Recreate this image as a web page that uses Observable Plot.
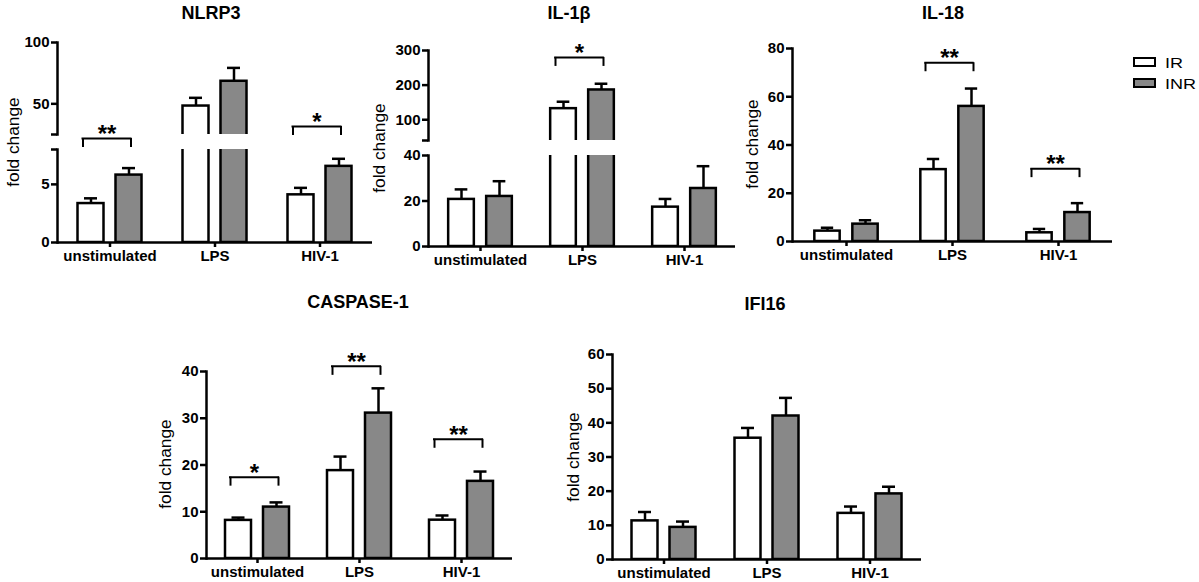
<!DOCTYPE html>
<html><head><meta charset="utf-8">
<script src="https://cdn.jsdelivr.net/npm/d3@7"></script>
<script src="https://cdn.jsdelivr.net/npm/@observablehq/plot@0.6"></script>
<style>
body{margin:0;background:#fff;}
#root{position:relative;width:1199px;height:582px;overflow:hidden;font-family:"Liberation Sans",Arial,sans-serif;color:#000;}
.wrap{position:absolute;}
.title{position:absolute;font-weight:bold;font-size:18px;transform:translate(-50%,-50%);white-space:nowrap;}
.ylab{position:absolute;font-size:16px;white-space:nowrap;transform:translate(-50%,-50%) rotate(-90deg) scaleX(1.08);}
.lg{position:absolute;width:19px;height:6px;border:2px solid #000;}
.lgt{position:absolute;font-size:15px;transform:translateY(-50%) scaleX(1.2);transform-origin:left center;white-space:nowrap;}
</style></head><body><div id="root"></div><script>
const categories = ["unstimulated", "LPS", "HIV-1"];
const groups = ["IR", "INR"];

// NLRP3
const nlrp3IR = [3.35, 48.2, 4.1];
const nlrp3IRsem = [0.45, 6.7, 0.6];
const nlrp3INR = [5.8, 68.4, 6.55];
const nlrp3INRsem = [0.6, 10.9, 0.65];
const nlrp3BracketCats = ["unstimulated", "HIV-1"];
const nlrp3BracketLevels = [21.7, 31.5];
const nlrp3BracketLabels = ["**", "*"];
const nlrp3UpperTicks = [25, 50, 100];
const nlrp3LowerTicks = [0, 5, 8];

// IL-1β
const il1bIR = [20.7, 132, 17.3];
const il1bIRsem = [4.4, 20, 3.6];
const il1bINR = [22, 186, 25.5];
const il1bINRsem = [6.7, 18, 9.8];
const il1bBracketCats = ["LPS"];
const il1bBracketLevels = [280];
const il1bBracketLabels = ["*"];
const il1bUpperTicks = [40, 100, 200, 300];
const il1bLowerTicks = [0, 20, 40];

// IL-18
const il18IR = [4.3, 29.8, 3.6];
const il18IRsem = [1.4, 4.4, 1.6];
const il18INR = [7.2, 56, 12];
const il18INRsem = [1.6, 7.4, 3.9];
const il18BracketCats = ["LPS", "HIV-1"];
const il18BracketLevels = [74.1, 30.2];
const il18BracketLabels = ["**", "**"];
const il18Ticks = [0, 20, 40, 60, 80];

// CASPASE-1
const caspIR = [8.15, 18.8, 8.2];
const caspIRsem = [0.6, 3.0, 1.0];
const caspINR = [11, 31.1, 16.5];
const caspINRsem = [1.0, 5.3, 2.1];
const caspBracketCats = ["unstimulated", "LPS", "HIV-1"];
const caspBracketLevels = [17.4, 41.1, 25.5];
const caspBracketLabels = ["*", "**", "**"];
const caspTicks = [0, 10, 20, 30, 40];

// IFI16
const ifi16IR = [11.3, 35.5, 13.5];
const ifi16IRsem = [2.6, 3.0, 2.0];
const ifi16INR = [9.4, 42, 19.2];
const ifi16INRsem = [1.7, 5.3, 2.1];
const ifi16Ticks = [0, 10, 20, 30, 40, 50, 60];

const fills = {IR: "#ffffff", INR: "#888888"};
const FONT = "'Liberation Sans', Arial, sans-serif";
const SW = 2.5;

function rows(irM, irS, inrM, inrS) {
  const out = [];
  categories.forEach((c, i) => {
    out.push({category: c, group: "IR", mean: irM[i], sem: irS[i]});
    out.push({category: c, group: "INR", mean: inrM[i], sem: inrS[i]});
  });
  return out;
}
function brackets(cats, levels, labels) {
  return cats.map((c, i) => ({category: c, level: levels[i], label: labels[i]}));
}

const root = document.getElementById("root");

function chart(cfg) {
  const {data, br = [], domain, ticks, hidden = [], x0, x1, y0, y1, showX} = cfg;
  const mL = 48, mR = 10, mT = 18, mB = showX ? 34 : 22;
  const w = (x1 - x0) / 3;
  const barW = 26, gap = 12, capW = 13;
  const off = gap / 2 + barW / 2;
  const half = w / 2;
  const ins = {
    IR: {insetLeft: half - gap / 2 - barW, insetRight: half + gap / 2},
    INR: {insetLeft: half + gap / 2, insetRight: half - gap / 2 - barW}
  };
  const capIns = {
    IR: {insetLeft: half - off - capW / 2, insetRight: half + off - capW / 2},
    INR: {insetLeft: half + off - capW / 2, insetRight: half - off - capW / 2}
  };
  const dxs = {IR: -off, INR: off};
  const marks = [];
  for (const g of groups) {
    const sub = data.filter(d => d.group === g);
    marks.push(Plot.ruleX(sub, {x: "category", y1: "mean", y2: d => d.mean + d.sem, dx: dxs[g], stroke: "#000", strokeWidth: SW, clip: true}));
    marks.push(Plot.tickY(sub, {x: "category", y: d => d.mean + d.sem, ...capIns[g], stroke: "#000", strokeWidth: SW, clip: true}));
    marks.push(Plot.barY(sub, {x: "category", y: "mean", fill: fills[g], stroke: "#000", strokeWidth: SW, ...ins[g], clip: true}));
  }
  if (br.length) {
    marks.push(Plot.ruleY(br, {x1: "category", x2: "category", y: "level", insetLeft: half - 28, insetRight: half - 22, stroke: "#000", strokeWidth: 2}));
    marks.push(Plot.ruleX(br, {x: "category", y1: "level", y2: "level", insetBottom: -9, dx: -27, stroke: "#000", strokeWidth: 2}));
    marks.push(Plot.ruleX(br, {x: "category", y1: "level", y2: "level", insetBottom: -9, dx: 21, stroke: "#000", strokeWidth: 2}));
    marks.push(Plot.text(br, {x: "category", y: "level", text: "label", dx: -3, dy: -4, fontSize: 24, fontWeight: "bold", fill: "#000"}));
  }
  marks.push(Plot.axisY({ticks, tickFormat: d => hidden.includes(d) ? "" : String(d), tickSize: 6, tickPadding: 2, fontSize: 15, fontWeight: "bold", strokeWidth: SW, label: null, fill: "#000"}));
  marks.push(Plot.frame({anchor: "left", stroke: "#000", strokeWidth: SW}));
  if (showX) {
    marks.push(Plot.ruleY([domain[0]], {stroke: "#000", strokeWidth: SW}));
    marks.push(Plot.axisX({tickSize: 5, tickPadding: 3, fontSize: 15, fontWeight: "bold", strokeWidth: SW, label: null, fill: "#000"}));
  }
  const svg = Plot.plot({
    width: mL + (x1 - x0) + mR,
    height: mT + (y1 - y0) + mB,
    marginLeft: mL, marginRight: mR, marginTop: mT, marginBottom: mB,
    style: {background: "none", fontFamily: FONT, color: "#000", overflow: "visible"},
    x: {type: "band", domain: categories, padding: 0, axis: null},
    y: {type: "linear", domain, axis: null},
    marks
  });
  const div = document.createElement("div");
  div.className = "wrap";
  div.style.left = (x0 - mL) + "px";
  div.style.top = (y0 - mT) + "px";
  div.appendChild(svg);
  root.appendChild(div);
}

function title(text, x, y) {
  const d = document.createElement("div");
  d.className = "title"; d.textContent = text;
  d.style.left = x + "px"; d.style.top = y + "px";
  root.appendChild(d);
}
function ylab(x, y) {
  const d = document.createElement("div");
  d.className = "ylab"; d.textContent = "fold change";
  d.style.left = x + "px"; d.style.top = y + "px";
  root.appendChild(d);
}

// NLRP3
const nlrp3 = rows(nlrp3IR, nlrp3IRsem, nlrp3INR, nlrp3INRsem);
chart({data: nlrp3, domain: [0, 8], ticks: nlrp3LowerTicks, hidden: [8], x0: 57, x1: 372, y0: 149, y1: 242, showX: true});
chart({data: nlrp3, br: brackets(nlrp3BracketCats, nlrp3BracketLevels, nlrp3BracketLabels), domain: [25, 100], ticks: nlrp3UpperTicks, hidden: [25], x0: 57, x1: 372, y0: 42, y1: 134, showX: false});
title("NLRP3", 211, 13); ylab(14, 142);

// IL-1β
const il1b = rows(il1bIR, il1bIRsem, il1bINR, il1bINRsem);
chart({data: il1b, domain: [0, 40], ticks: il1bLowerTicks, x0: 428, x1: 735, y0: 155, y1: 246, showX: true});
chart({data: il1b, br: brackets(il1bBracketCats, il1bBracketLevels, il1bBracketLabels), domain: [40, 300], ticks: il1bUpperTicks, hidden: [40], x0: 428, x1: 735, y0: 50, y1: 140, showX: false});
title("IL-1β", 569, 13); ylab(380, 148);

// IL-18
chart({data: rows(il18IR, il18IRsem, il18INR, il18INRsem), br: brackets(il18BracketCats, il18BracketLevels, il18BracketLabels), domain: [0, 80], ticks: il18Ticks, x0: 792, x1: 1112, y0: 48, y1: 241, showX: true});
title("IL-18", 943, 13); ylab(753, 144);

// CASPASE-1
chart({data: rows(caspIR, caspIRsem, caspINR, caspINRsem), br: brackets(caspBracketCats, caspBracketLevels, caspBracketLabels), domain: [0, 40], ticks: caspTicks, x0: 206, x1: 512, y0: 371, y1: 558, showX: true});
title("CASPASE-1", 358, 302); ylab(166, 464);

// IFI16
chart({data: rows(ifi16IR, ifi16IRsem, ifi16INR, ifi16INRsem), domain: [0, 60], ticks: ifi16Ticks, x0: 612, x1: 921, y0: 354, y1: 559, showX: true});
title("IFI16", 765, 304); ylab(574, 457);

// Legend
groups.forEach((g, i) => {
  const b = document.createElement("div");
  b.className = "lg";
  b.style.left = "1133px"; b.style.top = (57 + i * 21) + "px";
  b.style.background = fills[g];
  root.appendChild(b);
  const t = document.createElement("div");
  t.className = "lgt"; t.textContent = g;
  t.style.left = "1165px"; t.style.top = (62 + i * 21) + "px";
  root.appendChild(t);
});
</script></body></html>
